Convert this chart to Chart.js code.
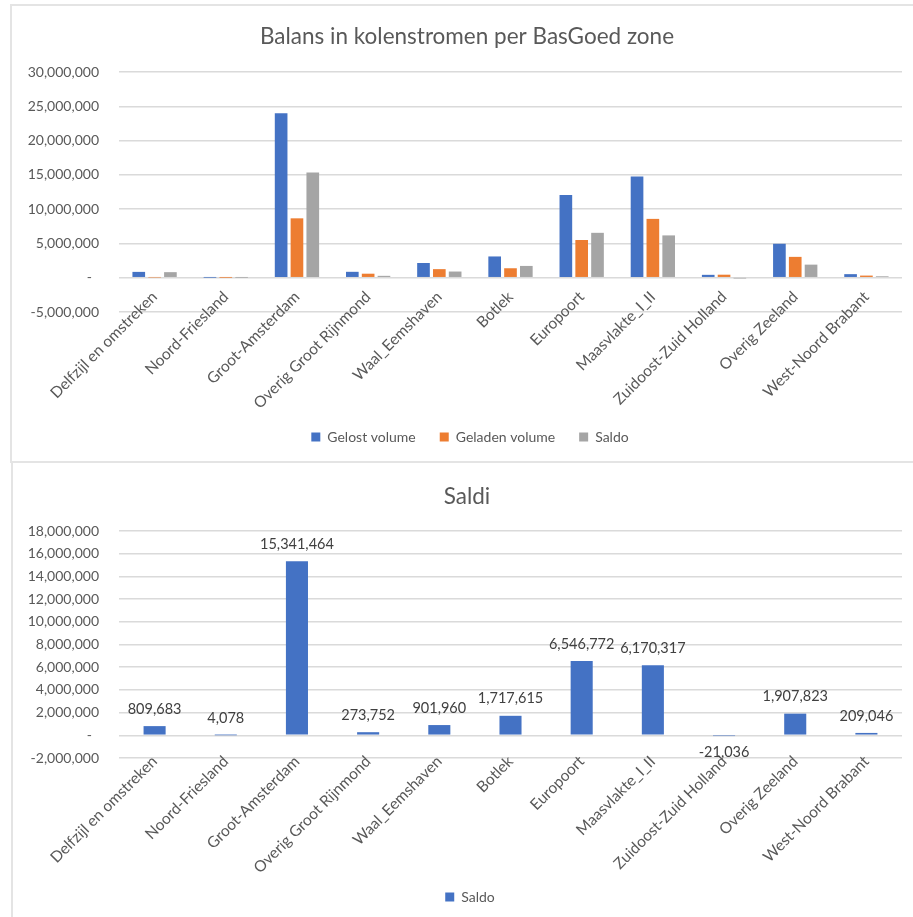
<!DOCTYPE html>
<html>
<head>
<meta charset="utf-8">
<script src="https://cdn.jsdelivr.net/npm/chart.js@4/dist/chart.umd.min.js"></script>
<style>
  html, body { margin: 0; padding: 0; background: #fff; width: 913px; height: 917px; overflow: hidden; position: relative; }
  .panel { position: absolute; border: 2px solid #e4e4e4; box-sizing: border-box; background: #fff; }
  #p1 { left: 10px; top: 4px; width: 920px; height: 459px; }
  #p2 { left: 11px; top: 461px; width: 920px; height: 480px; }
  canvas { position: absolute; }
  #c1 { left: 12px; top: 6px; }
  #c2 { left: 12px; top: 463px; }
</style>
</head>
<body>
<div class="panel" id="p1"></div>
<div class="panel" id="p2"></div>
<canvas id="c1" width="901" height="455"></canvas>
<canvas id="c2" width="901" height="454"></canvas>
<script>
// BasGoed zones
const zones = [
  'Delfzijl en omstreken', 'Noord-Friesland', 'Groot-Amsterdam', 'Overig Groot Rijnmond',
  'Waal_Eemshaven', 'Botlek', 'Europoort', 'Maasvlakte_I_II', 'Zuidoost-Zuid Holland',
  'Overig Zeeland', 'West-Noord Brabant'
];

// coal volumes per zone (tonnes)
const gelost  = [850000, 8000, 24000000, 860000, 2150000, 3100000, 12050000, 14750000, 420000, 4950000, 520000];
const geladen = [40000, 4000, 8660000, 586000, 1250000, 1380000, 5500000, 8580000, 440000, 3040000, 310000];
const saldo   = [809683, 4078, 15341464, 273752, 901960, 1717615, 6546772, 6170317, -21036, 1907823, 209046];

// axis ranges
const balansTicks = { min: -5000000, max: 30000000, step: 5000000 };
const saldiTicks  = { min: -2000000, max: 18000000, step: 2000000 };

const BLUE = '#4472C4', ORANGE = '#ED7D31', GRAY = '#A5A5A5';
const TEXT = '#595959';
const FONT = 'Lato, "Liberation Sans", sans-serif';

Chart.defaults.font.family = FONT;
Chart.defaults.color = TEXT;

function fmt(v) {
  const s = String(Math.abs(v)).replace(/\B(?=(\d{3})+(?!\d))/g, ',');
  return (v < 0 ? '-' : '') + s;
}

function yTick(v) {
  return v === 0 ? '-  ' : fmt(v);
}

// value labels above (or below, for negatives) each bar
const valueLabels = {
  id: 'valueLabels',
  afterDatasetsDraw(chart) {
    const ctx = chart.ctx;
    const meta = chart.getDatasetMeta(0);
    const vals = chart.data.datasets[0].data;
    ctx.save();
    ctx.font = '14.5px ' + FONT;
    ctx.fillStyle = '#404040';
    ctx.textAlign = 'center';
    ctx.textBaseline = 'middle';
    meta.data.forEach((bar, i) => {
      const v = vals[i];
      const y = v >= 0 ? bar.y - 17 : bar.y + 17;
      ctx.fillText(fmt(v), bar.x, y);
    });
    ctx.restore();
  }
};

// title and legend are centred on the whole frame, which runs a little past the canvas edge
const frameCentre = {
  id: 'frameCentre',
  afterLayout(chart) {
    const t = chart.titleBlock, l = chart.legend;
    if (t) { t.left += 10; t.right += 10; }
    if (l) { l.left += 13; l.right += 13; }
  }
};

// category labels hang from the zero line; the legend keeps the space below the plot free for them
function baseOptions(o) {
  return {
    responsive: false,
    animation: false,
    layout: { padding: { left: 0, right: 11, top: 0, bottom: o.padBottom } },
    plugins: {
      title: {
        display: true,
        text: o.title,
        color: TEXT,
        font: { size: 22.5, weight: 'normal', family: FONT },
        padding: { top: o.titleTop, bottom: o.titleBottom }
      },
      legend: {
        position: 'bottom',
        title: { display: true, text: '', font: { size: 12 }, padding: { top: o.legendGap, bottom: 0 } },
        labels: {
          boxWidth: 9, boxHeight: 9, padding: 24,
          color: TEXT,
          font: { size: 14, family: FONT }
        }
      },
      tooltip: { enabled: false }
    },
    scales: {
      x: {
        position: { y: 0 },
        grid: { display: false, drawTicks: false },
        border: { display: false },
        ticks: {
          autoSkip: false,
          minRotation: 45, maxRotation: 45,
          padding: o.labelPad,
          color: TEXT,
          font: { size: 15.5, family: FONT }
        }
      },
      y: {
        min: o.ticks.min, max: o.ticks.max,
        grid: { color: '#dadada', lineWidth: 1.5, drawTicks: false },
        border: { display: false },
        ticks: {
          stepSize: o.ticks.step,
          padding: 20,
          color: TEXT,
          font: { size: 14, family: FONT },
          callback: yTick
        },
        afterFit(scale) { scale.width = 107; }
      }
    }
  };
}

new Chart(document.getElementById('c1'), {
  type: 'bar',
  data: {
    labels: zones,
    datasets: [
      { label: 'Gelost volume', data: gelost, backgroundColor: BLUE },
      { label: 'Geladen volume', data: geladen, backgroundColor: ORANGE },
      { label: 'Saldo', data: saldo, backgroundColor: GRAY }
    ].map(d => Object.assign(d, { categoryPercentage: 0.667, barPercentage: 0.8 }))
  },
  options: baseOptions({
    title: 'Balans in kolenstromen per BasGoed zone',
    titleTop: 17.5, titleBottom: 21.5,
    padBottom: 7, legendGap: 79.6, labelPad: 10,
    ticks: balansTicks
  }),
  plugins: [frameCentre]
});

new Chart(document.getElementById('c2'), {
  type: 'bar',
  data: {
    labels: zones,
    datasets: [
      { label: 'Saldo', data: saldo, backgroundColor: BLUE, categoryPercentage: 0.5, barPercentage: 0.62 }
    ]
  },
  options: baseOptions({
    title: 'Saldi',
    titleTop: 20.5, titleBottom: 20.5,
    padBottom: 3, legendGap: 93.6, labelPad: 17,
    ticks: saldiTicks
  }),
  plugins: [valueLabels, frameCentre]
});
</script>
</body>
</html>
